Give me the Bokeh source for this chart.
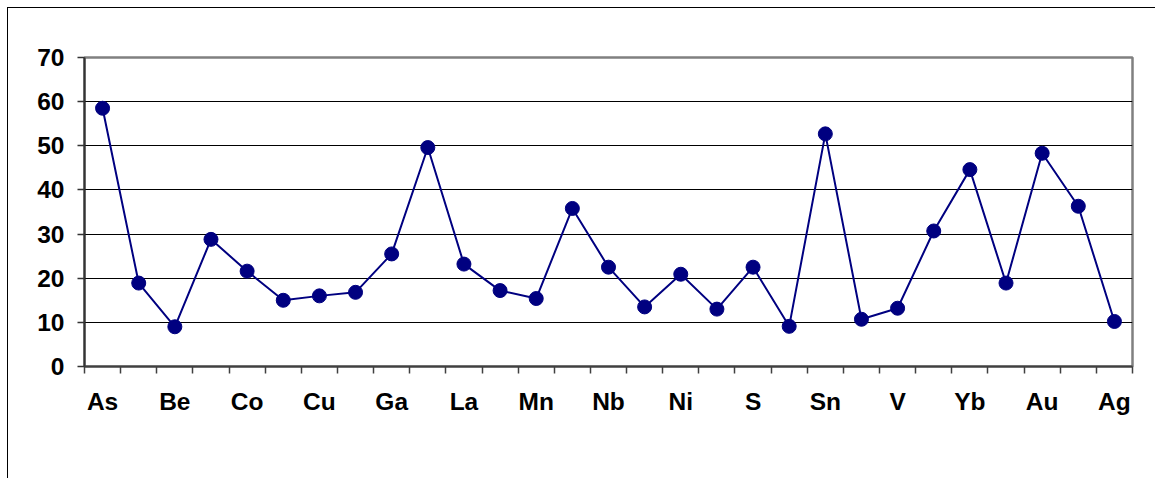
from bokeh.plotting import figure
from bokeh.models import Range1d, FixedTicker
from bokeh.embed import file_html
from bokeh.resources import INLINE

elements = ["As", "B", "Be", "Bi", "Co", "Cr", "Cu", "F", "Ga", "Ge",
            "La", "Li", "Mn", "Mo", "Nb", "Nd", "Ni", "Pb", "S", "Sb",
            "Sn", "Sr", "V", "W", "Yb", "Zn", "Au", "Hg", "Ag"]
values = [58.5, 18.9, 9.0, 28.8, 21.6, 15.0, 16.0, 16.8, 25.5, 49.6,
          23.2, 17.2, 15.4, 35.8, 22.5, 13.5, 20.9, 13.0, 22.5, 9.1,
          52.7, 10.7, 13.2, 30.7, 44.6, 18.9, 48.3, 36.3, 10.2]
y_ticks = [0, 10, 20, 30, 40, 50, 60, 70]

xs = list(range(len(elements)))

W, H = 1148, 471
p = figure(width=W, height=H, output_backend="svg", toolbar_location=None,
           x_range=Range1d(-0.5, len(elements) - 0.5), y_range=Range1d(0, 70),
           min_border_left=76, min_border_right=W - 76 - 1048,
           min_border_top=49, min_border_bottom=H - 49 - 309)
p.styles = {"border-top": "1px solid #000000", "border-left": "1px solid #000000",
            "margin-left": "7px", "margin-top": "7px"}

p.line(xs, values, line_color="#000080", line_width=2)
p.scatter(xs, values, size=14, fill_color="#000080", line_color="#000080")

font = "Liberation Sans"
# x axis
xa = p.xaxis[0]
xa.ticker = FixedTicker(ticks=xs, minor_ticks=[i - 0.5 for i in range(len(elements) + 1)])
xa.major_label_overrides = {i: (elements[i] if i % 2 == 0 else "") for i in xs}
xa.major_tick_out = 0
xa.major_tick_in = 0
xa.minor_tick_out = 7
xa.minor_tick_in = 0
xa.minor_tick_line_color = "#404040"
xa.minor_tick_line_width = 1.5
xa.axis_line_color = "#404040"
xa.axis_line_width = 2
xa.major_label_text_font = font
xa.major_label_text_font_style = "bold"
xa.major_label_text_font_size = "24.5px"
xa.major_label_text_color = "#000000"
xa.major_label_standoff = 14

# y axis
ya = p.yaxis[0]
ya.ticker = FixedTicker(ticks=y_ticks, minor_ticks=[])
ya.major_tick_out = 7
ya.major_tick_in = 0
ya.major_tick_line_color = "#333333"
ya.major_tick_line_width = 1.5
ya.axis_line_color = "#333333"
ya.axis_line_width = 2
ya.major_label_text_font = font
ya.major_label_text_font_style = "bold"
ya.major_label_text_font_size = "24.5px"
ya.major_label_text_color = "#000000"
ya.major_label_standoff = 13

p.xgrid.grid_line_color = None
p.ygrid.grid_line_color = "#000000"
p.ygrid.grid_line_width = 1
p.ygrid.ticker = FixedTicker(ticks=[10, 20, 30, 40, 50, 60])

p.outline_line_color = "#808080"
p.outline_line_width = 2.5
p.background_fill_color = "#ffffff"
p.border_fill_color = "#ffffff"

open("out.html", "w").write(file_html(p, INLINE))
